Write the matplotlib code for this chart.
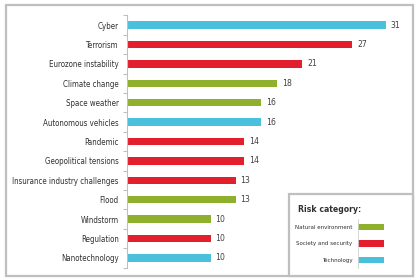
import numpy as np
import matplotlib.pyplot as plt
from matplotlib.patches import Rectangle

plt.rcParams['font.family'] = ['DejaVu Sans']
plt.rcParams['font.stretch'] = 'condensed'

risks = ["Cyber", "Terrorism", "Eurozone instability", "Climate change",
         "Space weather", "Autonomous vehicles", "Pandemic",
         "Geopolitical tensions", "Insurance industry challenges", "Flood",
         "Windstorm", "Regulation", "Nanotechnology"]
scores = [31, 27, 21, 18, 16, 16, 14, 14, 13, 13, 10, 10, 10]
categories = ["Technology", "Society and security", "Society and security",
              "Natural environment", "Natural environment", "Technology",
              "Society and security", "Society and security",
              "Society and security", "Natural environment",
              "Natural environment", "Society and security", "Technology"]

legend_labels = ["Natural environment", "Society and security", "Technology"]
cat_colors = {"Natural environment": "#8FB02C",
              "Society and security": "#E31E2D",
              "Technology": "#4BC0DC"}

W, H = 415, 278
fig = plt.figure(figsize=(W / 100, H / 100), dpi=100)

def fx(px):
    return px / W

def fy(py):
    return 1 - py / H

# outer frame
fig.patches.append(Rectangle((fx(6), fy(276)), fx(413) - fx(6), fy(5) - fy(276),
                             transform=fig.transFigure, fill=False,
                             edgecolor="#BFBFBF", linewidth=1.6))

ax = fig.add_axes([fx(127), fy(267.7), fx(413) - fx(127), fy(15.3) - fy(267.7)])
y = np.arange(len(risks))
colors = [cat_colors[c] for c in categories]
ax.barh(y, scores, height=0.38, color=colors)
for yi, v in zip(y, scores):
    ax.text(v + 0.6, yi, str(v), va="center", ha="left", fontsize=6.2, color="#404040")

ax.set_xlim(0, 34.25)
ax.set_ylim(len(risks) - 0.5, -0.5)
ax.set_yticks(y)
ax.set_yticklabels(risks, fontsize=5.7, color="#303030")
ax.set_yticks(np.arange(len(risks) + 1) - 0.5, minor=True)
ax.tick_params(axis="y", which="major", length=0, pad=6)
ax.tick_params(axis="y", which="minor", length=3, color="#BFBFBF", width=0.8)
ax.set_xticks([])
for s in ["top", "right", "bottom"]:
    ax.spines[s].set_visible(False)
ax.spines["left"].set_color("#BFBFBF")
ax.spines["left"].set_linewidth(0.8)
ax.patch.set_alpha(0)

# legend box
fig.patches.append(Rectangle((fx(289), fy(276)), fx(413) - fx(289), fy(194) - fy(276),
                             transform=fig.transFigure, facecolor="white",
                             edgecolor="#BFBFBF", linewidth=1.6, zorder=3))
fig.text(fx(298), fy(209), "Risk category:", fontsize=6.2, fontweight="bold",
         color="#303030", va="center", ha="left", zorder=4)

lax = fig.add_axes([fx(358), fy(268.2), fx(384) - fx(358), fy(218.7) - fy(268.2)], zorder=5)
ly = np.arange(len(legend_labels))
lax.barh(ly, [1] * len(ly), height=0.38, color=[cat_colors[c] for c in legend_labels])
lax.set_xlim(0, 1)
lax.set_ylim(len(ly) - 0.5, -0.5)
lax.set_yticks(ly)
lax.set_yticklabels(legend_labels, fontsize=4.4, color="#303030")
lax.tick_params(axis="y", length=0, pad=4)
lax.set_xticks([])
for s in ["top", "right", "bottom"]:
    lax.spines[s].set_visible(False)
lax.spines["left"].set_color("#D0D0D0")
lax.spines["left"].set_linewidth(0.6)
lax.patch.set_alpha(0)

fig.savefig("out.png", dpi=100)
